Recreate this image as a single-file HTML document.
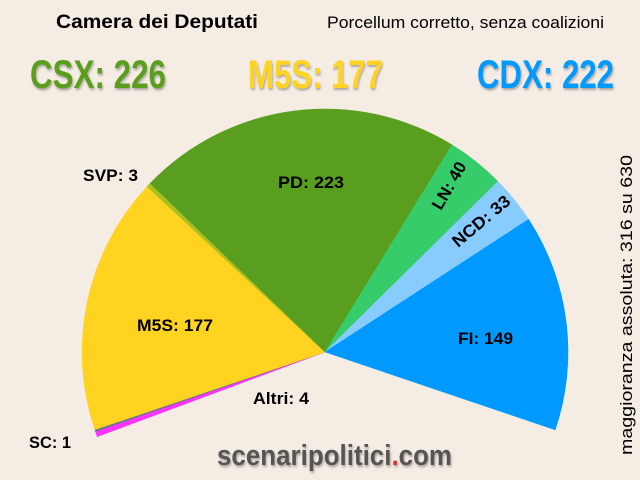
<!DOCTYPE html>
<html><head><meta charset="utf-8"><style>
html,body{margin:0;padding:0;background:#f5ece4;}
svg{display:block;font-family:"Liberation Sans",sans-serif;}
</style></head><body>
<svg width="640" height="480" viewBox="0 0 640 480" xmlns="http://www.w3.org/2000/svg">
<defs>
<filter id="sh" x="-10%" y="-10%" width="120%" height="130%"><feDropShadow dx="1" dy="2" stdDeviation="1" flood-color="#000" flood-opacity="0.3"/></filter>
</defs>
<rect width="640" height="480" fill="#f5ece4"/>
<g stroke-width="0.5">
<path d="M325,352 L97.2,436.7 A243,243 0 0 1 95.4,431.5 Z" fill="#ff33ff" stroke="#ff33ff"/>
<path d="M325,352 L95.4,431.5 A243,243 0 0 1 94.8,429.7 Z" fill="#667788" stroke="#667788"/>
<path d="M325,352 L94.8,429.7 A243,243 0 0 1 147.0,186.6 Z" fill="#ffd320" stroke="#ffd320"/>
<path d="M325,352 L147.0,186.6 A243,243 0 0 1 150.1,183.3 Z" fill="#a8c020" stroke="#a8c020"/>
<path d="M325,352 L150.1,183.3 A243,243 0 0 1 452.0,144.8 Z" fill="#5a9e1f" stroke="#5a9e1f"/>
<path d="M325,352 L452.0,144.8 A243,243 0 0 1 498.0,181.4 Z" fill="#37cc6a" stroke="#37cc6a"/>
<path d="M325,352 L498.0,181.4 A243,243 0 0 1 528.6,219.3 Z" fill="#88ccff" stroke="#88ccff"/>
<path d="M325,352 L528.6,219.3 A243,243 0 0 1 555.2,429.9 Z" fill="#0099ff" stroke="#0099ff"/>
</g>
<text x="56" y="28" font-size="19" font-weight="bold" textLength="202" lengthAdjust="spacingAndGlyphs">Camera dei Deputati</text>
<text x="327" y="28" font-size="17" textLength="277" lengthAdjust="spacingAndGlyphs">Porcellum corretto, senza coalizioni</text>
<g font-size="40" font-weight="bold" filter="url(#sh)">
<text x="30" y="88" fill="#5a9e1f" textLength="136" lengthAdjust="spacingAndGlyphs">CSX: 226</text>
<text x="248" y="88" fill="#ffd320" textLength="135" lengthAdjust="spacingAndGlyphs">M5S: 177</text>
<text x="477" y="88" fill="#0099ff" textLength="137" lengthAdjust="spacingAndGlyphs">CDX: 222</text>
</g>
<g font-size="17" font-weight="bold" fill="#000">
<text x="278" y="188" textLength="66" lengthAdjust="spacingAndGlyphs">PD: 223</text>
<text x="137" y="331" textLength="76" lengthAdjust="spacingAndGlyphs">M5S: 177</text>
<text x="458" y="344" textLength="55" lengthAdjust="spacingAndGlyphs">FI: 149</text>
<text x="253" y="404" textLength="56" lengthAdjust="spacingAndGlyphs">Altri: 4</text>
<text x="29" y="448" textLength="42" lengthAdjust="spacingAndGlyphs">SC: 1</text>
<text x="83" y="181" textLength="55" lengthAdjust="spacingAndGlyphs">SVP: 3</text>
<text transform="translate(441,211) rotate(-60)" textLength="52" lengthAdjust="spacingAndGlyphs">LN: 40</text>
<text transform="translate(458,248) rotate(-40)" textLength="70" lengthAdjust="spacingAndGlyphs">NCD: 33</text>
</g>
<text transform="translate(632,455) rotate(-90)" font-size="17" textLength="300" lengthAdjust="spacingAndGlyphs">maggioranza assoluta: 316 su 630</text>
<text x="217" y="465" font-size="29" font-weight="bold" fill="#555" filter="url(#sh)" textLength="235" lengthAdjust="spacingAndGlyphs">scenaripolitici<tspan fill="#e03030">.</tspan>com</text>
</svg>
</body></html>
